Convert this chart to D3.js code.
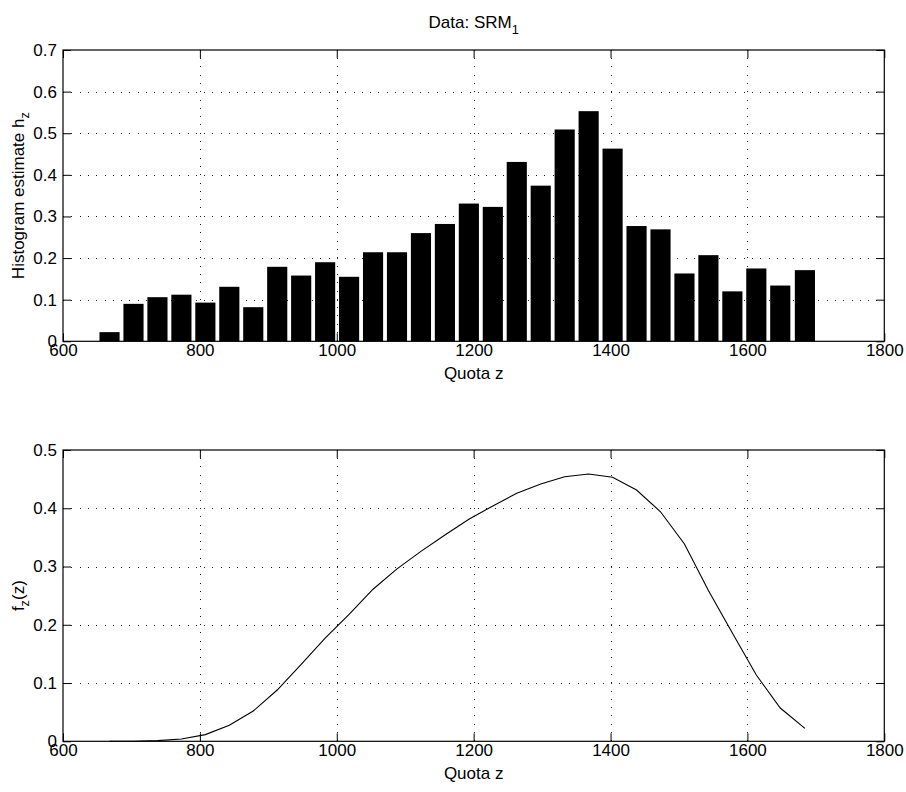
<!DOCTYPE html>
<html>
<head>
<meta charset="utf-8">
<script src="https://cdn.jsdelivr.net/npm/d3@7/dist/d3.min.js"></script>
<style>
  html, body { margin: 0; padding: 0; background: #fff; }
  svg { display: block; }
  text { font-family: "Liberation Sans", Arial, Helvetica, sans-serif; fill: #000; }
</style>
</head>
<body>
<svg id="chart" width="906" height="792"></svg>
<script>
// ---- data ----
const binCenters = [668, 703, 738, 773, 808, 843, 878, 913, 948, 983,
                    1018, 1053, 1088, 1123, 1158, 1193, 1228, 1263, 1298, 1333,
                    1368, 1403, 1438, 1473, 1508, 1543, 1578, 1613, 1648, 1684];
const histValues = [0.022, 0.090, 0.106, 0.112, 0.093, 0.131, 0.082, 0.179, 0.158, 0.190,
                    0.155, 0.214, 0.214, 0.260, 0.282, 0.331, 0.323, 0.431, 0.374, 0.509,
                    0.553, 0.463, 0.277, 0.269, 0.163, 0.207, 0.120, 0.175, 0.134, 0.171];
const densityValues = [0.0000, 0.0001, 0.0012, 0.0040, 0.0115, 0.0275, 0.052, 0.088, 0.132, 0.177,
                       0.218, 0.261, 0.296, 0.326, 0.354, 0.381, 0.404, 0.4256, 0.4416, 0.4541,
                       0.4587, 0.4531, 0.4313, 0.394, 0.3386, 0.259, 0.186, 0.1138, 0.0571, 0.0223];
const xTicks = [600, 800, 1000, 1200, 1400, 1600, 1800];
const yTicksTop = [0, 0.1, 0.2, 0.3, 0.4, 0.5, 0.6, 0.7];
const yTicksBottom = [0, 0.1, 0.2, 0.3, 0.4, 0.5];
const binWidth = 35.02;

// ---- layout ----
const svg = d3.select("#chart");
const FS = 17;
const left = 63, right = 884.3;
const panels = [
  { top: 50, bottom: 341.3, yMax: 0.7, yTicks: yTicksTop },
  { top: 450, bottom: 741.3, yMax: 0.5, yTicks: yTicksBottom }
];

const x = d3.scaleLinear().domain([600, 1800]).range([left, right]);
const fmtY = d => d === 0 ? "0" : d3.format(".1f")(d);

function drawFrame(p) {
  const y = d3.scaleLinear().domain([0, p.yMax]).range([p.bottom, p.top]);
  const g = svg.append("g");
  // grid
  const grid = g.append("g").attr("stroke", "#222").attr("stroke-width", 1)
    .attr("stroke-dasharray", "1,7.3").attr("shape-rendering", "crispEdges");
  grid.selectAll("line.v").data(xTicks.filter(t => t > 600 && t < 1800)).join("line")
    .attr("x1", d => Math.round(x(d)) + 0.5).attr("x2", d => Math.round(x(d)) + 0.5)
    .attr("y1", p.bottom).attr("y2", p.top);
  grid.selectAll("line.h").data(p.yTicks.filter(t => t > 0 && t < p.yMax)).join("line")
    .attr("x1", left).attr("x2", right)
    .attr("y1", d => Math.round(y(d)) + 0.5).attr("y2", d => Math.round(y(d)) + 0.5);
  return { g, y };
}

function drawAxes(p, y) {
  const g = svg.append("g");
  const bx = g.append("g").attr("transform", `translate(0,${p.bottom})`)
    .call(d3.axisBottom(x).tickValues(xTicks).tickSize(-8).tickPadding(3).tickFormat(d3.format("d")));
  const tx = g.append("g").attr("transform", `translate(0,${p.top})`)
    .call(d3.axisTop(x).tickValues(xTicks).tickSize(-8).tickFormat(""));
  const ly = g.append("g").attr("transform", `translate(${left},0)`)
    .call(d3.axisLeft(y).tickValues(p.yTicks).tickSize(-8).tickPadding(6).tickFormat(fmtY));
  const ry = g.append("g").attr("transform", `translate(${right},0)`)
    .call(d3.axisRight(y).tickValues(p.yTicks).tickSize(-8).tickFormat(""));
  g.selectAll(".domain").attr("stroke", "#000").attr("stroke-width", 1.2);
  g.selectAll(".tick line").attr("stroke", "#000").attr("stroke-width", 1);
  g.selectAll(".tick text").attr("font-size", FS).attr("font-family", '"Liberation Sans", Arial, sans-serif').attr("fill", "#000");
  g.selectAll(".domain").attr("d", null);
  g.append("rect").attr("x", left).attr("y", p.top).attr("width", right - left).attr("height", p.bottom - p.top)
    .attr("fill", "none").attr("stroke", "#000").attr("stroke-width", 1.2);
}

// ---- top panel: histogram ----
const p1 = panels[0];
const f1 = drawFrame(p1);
const barW = x(600 + binWidth * 0.84) - x(600);
svg.append("g").selectAll("rect").data(binCenters).join("rect")
  .attr("x", (d) => x(d) - barW / 2)
  .attr("width", barW)
  .attr("y", (d, i) => f1.y(histValues[i]))
  .attr("height", (d, i) => p1.bottom - f1.y(histValues[i]))
  .attr("fill", "#000");
drawAxes(p1, f1.y);

// ---- bottom panel: density ----
const p2 = panels[1];
const f2 = drawFrame(p2);
const line = d3.line().x((d) => x(d)).y((d, i) => f2.y(densityValues[i]));
svg.append("path").datum(binCenters).attr("d", line)
  .attr("fill", "none").attr("stroke", "#000").attr("stroke-width", 1.1);
drawAxes(p2, f2.y);

// ---- texts ----
const cx = (left + right) / 2;
const title = svg.append("text").attr("x", cx).attr("y", 28).attr("text-anchor", "middle").attr("font-size", FS);
title.append("tspan").text("Data: SRM");
title.append("tspan").attr("font-size", FS * 0.75).attr("dy", 6).text("1");

svg.append("text").attr("x", cx).attr("y", 379).attr("text-anchor", "middle").attr("font-size", FS).text("Quota z");
svg.append("text").attr("x", cx).attr("y", 779).attr("text-anchor", "middle").attr("font-size", FS).text("Quota z");

const yl1 = svg.append("text").attr("transform", `translate(24,${(p1.top + p1.bottom) / 2}) rotate(-90)`)
  .attr("text-anchor", "middle").attr("font-size", FS);
yl1.append("tspan").text("Histogram estimate h");
yl1.append("tspan").attr("font-size", FS * 0.75).attr("dy", 5).text("z");

const yl2 = svg.append("text").attr("transform", `translate(24,${(p2.top + p2.bottom) / 2}) rotate(-90)`)
  .attr("text-anchor", "middle").attr("font-size", FS);
yl2.append("tspan").text("f");
yl2.append("tspan").attr("font-size", FS * 0.75).attr("dy", 5).text("z");
yl2.append("tspan").attr("dy", -5).text("(z)");
</script>
</body>
</html>
